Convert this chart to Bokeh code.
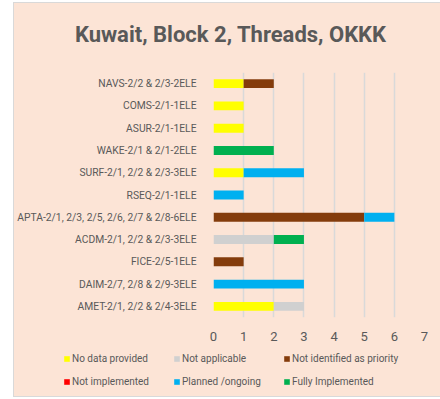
from bokeh.plotting import figure
from bokeh.layouts import column
from bokeh.models import ColumnDataSource, Legend, LegendItem, FixedTicker, Div
from bokeh.embed import file_html
from bokeh.resources import INLINE

title_text = "Kuwait, Block 2, Threads, OKKK"
categories = ["AMET-2/1, 2/2 & 2/4-3ELE", "DAIM-2/7, 2/8 & 2/9-3ELE", "FICE-2/5-1ELE",
              "ACDM-2/1, 2/2 & 2/3-3ELE", "APTA-2/1, 2/3, 2/5, 2/6, 2/7 & 2/8-6ELE",
              "RSEQ-2/1-1ELE", "SURF-2/1, 2/2 & 2/3-3ELE", "WAKE-2/1 & 2/1-2ELE",
              "ASUR-2/1-1ELE", "COMS-2/1-1ELE", "NAVS-2/2 & 2/3-2ELE"]
no_data = [2, 0, 0, 0, 0, 0, 1, 0, 1, 1, 1]
not_applicable = [1, 0, 0, 2, 0, 0, 0, 0, 0, 0, 0]
not_priority = [0, 0, 1, 0, 5, 0, 0, 0, 0, 0, 1]
not_implemented = [0, 0, 0, 0, 0, 0, 0, 0, 0, 0, 0]
planned = [0, 3, 0, 0, 1, 1, 2, 0, 0, 0, 0]
fully = [0, 0, 0, 1, 0, 0, 0, 2, 0, 0, 0]
series_names = ["No data provided", "Not applicable", "Not identified as priority",
                "Not implemented", "Planned /ongoing", "Fully Implemented"]
x_ticks = [0, 1, 2, 3, 4, 5, 6, 7]

colors = ["#FFFF00", "#D0D0D0", "#843C0C", "#FF0000", "#00B0F0", "#00B050"]
keys = ["s0", "s1", "s2", "s3", "s4", "s5"]
source = ColumnDataSource(dict(cat=categories, s0=no_data, s1=not_applicable, s2=not_priority,
                               s3=not_implemented, s4=planned, s5=fully))

BG = "#FCE4D6"
TXT = "#595959"

title = Div(text=title_text, width=423, height=54,
            styles={"font-family": "Roboto", "font-size": "22px", "font-weight": "bold",
                    "color": TXT, "text-align": "center", "line-height": "54px",
                    "background-color": BG})

p = figure(y_range=categories, x_range=(0, 7), width=423, height=281,
           output_backend="svg", toolbar_location=None,
           background_fill_color=BG, border_fill_color=BG, frame_align=False,
           min_border_left=199, min_border_right=13, min_border_top=5, min_border_bottom=31)
p.outline_line_color = None

p.hbar_stack(keys, y="cat", height=0.4, fill_color=colors, line_color=None,
             line_width=0, source=source)

p.xaxis.ticker = FixedTicker(ticks=x_ticks)
p.xaxis.axis_line_color = None
p.xaxis.major_tick_line_color = None
p.xaxis.minor_tick_line_color = None
p.xaxis.major_label_text_font = "Roboto"
p.xaxis.major_label_text_font_size = "13px"
p.xaxis.major_label_text_color = TXT
p.xaxis.major_label_standoff = 8

p.yaxis.axis_line_color = None
p.yaxis.major_tick_line_color = None
p.yaxis.minor_tick_line_color = None
p.yaxis.major_label_text_font = "Roboto"
p.yaxis.major_label_text_font_size = "10.3px"
p.yaxis.major_label_text_color = TXT
p.yaxis.major_label_standoff = 11

p.xgrid.grid_line_color = "#D9D9D9"
p.xgrid.grid_line_width = 1.5
p.ygrid.grid_line_color = None

# legend panel
pl = figure(width=423, height=48, output_backend="svg", toolbar_location=None,
            x_axis_type=None, y_axis_type=None, x_range=(0, 1), y_range=(0, 1),
            background_fill_color=BG, border_fill_color=BG, frame_align=False,
            min_border_left=0, min_border_right=0, min_border_top=0, min_border_bottom=0)
pl.outline_line_color = None
items = []
nan = float("nan")
for name, c in zip(series_names, colors):
    r = pl.hbar(y=[nan], right=[nan], height=0.5, fill_color=c, line_color=None)
    items.append(LegendItem(label=name, renderers=[r]))
legend = Legend(items=items, ncols=3, orientation="horizontal",
                location=(49, 6), padding=0, margin=0, spacing=6,
                glyph_width=7, glyph_height=7, label_standoff=2, label_width=95,
                label_height=17, label_text_font="Roboto",
                label_text_font_size="10px", label_text_color=TXT,
                border_line_color=None, background_fill_alpha=0)
pl.add_layout(legend, "center")

layout = column(title, p, pl, spacing=0,
                styles={"margin-top": "3px", "margin-left": "14px",
                        "background-color": BG, "outline": "1px solid #D9D9D9"})
open("out.html", "w").write(file_html(layout, INLINE))
